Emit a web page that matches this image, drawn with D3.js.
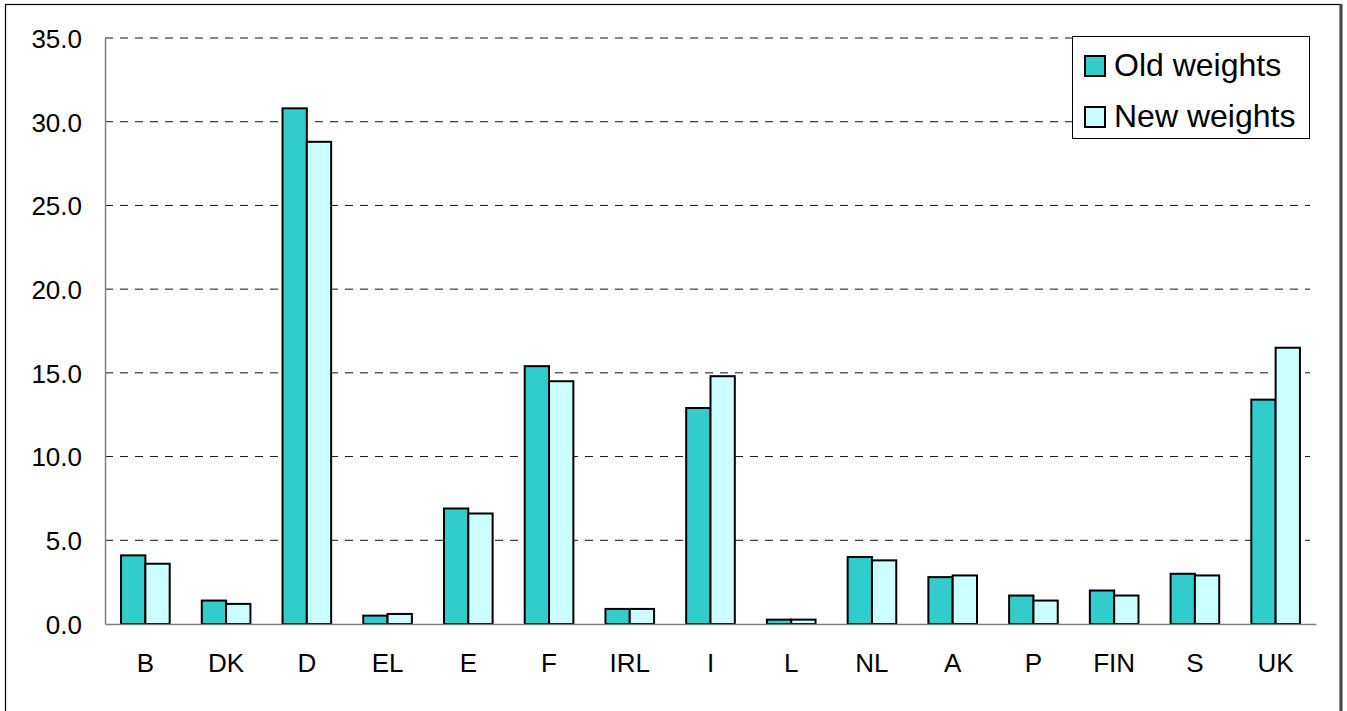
<!DOCTYPE html>
<html><head><meta charset="utf-8">
<script src="https://cdn.jsdelivr.net/npm/d3@7"></script>
<style>body{margin:0;background:#fff;}svg{display:block;font-family:"Liberation Sans",Arial,sans-serif;}</style>
</head><body>
<svg id="c" width="1347" height="711"></svg>
<script>
const categories = ["B","DK","D","EL","E","F","IRL","I","L","NL","A","P","FIN","S","UK"];
const oldWeights = [4.1,1.4,30.8,0.5,6.9,15.4,0.9,12.9,0.26,4.0,2.8,1.7,2.0,3.0,13.4];
const newWeights = [3.6,1.2,28.8,0.6,6.6,14.5,0.9,14.8,0.26,3.8,2.9,1.4,1.7,2.9,16.5];
const seriesNames = ["Old weights","New weights"];
const seriesColors = ["#33CCCC","#CCFFFF"];
const yTicks = [0,5,10,15,20,25,30,35];

const svg = d3.select("#c");
const pLeft = 105, pRight = 1316, pTop = 38, pBottom = 624;

// outer frame
svg.append("rect").attr("x",5.5).attr("y",4.5).attr("width",1335).attr("height",720)
  .attr("fill","none").attr("stroke","#000").attr("stroke-width",1.2);
svg.append("line").attr("x1",1341).attr("x2",1341).attr("y1",4).attr("y2",711)
  .attr("stroke","#444").attr("stroke-width",3);

const x = d3.scaleBand().domain(categories).range([pLeft,pRight]).paddingInner(0).paddingOuter(0);
const y = d3.scaleLinear().domain([0,35]).range([pBottom,pTop]);
const inner = d3.scaleBand().domain(seriesNames).range([0,x.bandwidth()]).paddingOuter(0.66).paddingInner(0);

// gridlines
svg.append("g").selectAll("line").data(yTicks.filter(d=>d>0)).join("line")
  .attr("x1",pLeft).attr("x2",1310).attr("y1",d=>y(d)).attr("y2",d=>y(d))
  .attr("stroke","#111").attr("stroke-width",1).attr("stroke-dasharray","8,7");

// y axis
const ya = svg.append("g").attr("transform",`translate(${pLeft},0)`)
  .call(d3.axisLeft(y).tickValues(yTicks).tickFormat(d3.format(".1f")).tickSize(0).tickPadding(23));
ya.select(".domain").attr("stroke","#808080").attr("stroke-width",1.5);
ya.selectAll("text").attr("font-size",26).attr("fill","#000").attr("font-family","Liberation Sans, Arial, sans-serif").attr("dy","0.36em");

// bars
const data = categories.map((c,i)=>({c, vals:[oldWeights[i],newWeights[i]]}));
const g = svg.append("g");
data.forEach(d=>{
  d.vals.forEach((v,j)=>{
    g.append("rect")
      .attr("x",x(d.c)+inner(seriesNames[j]))
      .attr("y",y(v))
      .attr("width",inner.bandwidth())
      .attr("height",y(0)-y(v))
      .attr("fill",seriesColors[j]).attr("stroke","#000").attr("stroke-width",2);
  });
});

// baseline / x axis
const xa = svg.append("g").attr("transform",`translate(0,${pBottom})`)
  .call(d3.axisBottom(x).tickSize(0).tickPadding(30));
xa.select(".domain").attr("stroke","#808080").attr("stroke-width",1.5);
xa.selectAll("text").attr("font-size",26).attr("fill","#000").attr("font-family","Liberation Sans, Arial, sans-serif");

// legend
const lg = svg.append("g");
lg.append("rect").attr("x",1072.5).attr("y",36.5).attr("width",237).attr("height",102)
  .attr("fill","#fff").attr("stroke","#000").attr("stroke-width",1);
seriesNames.forEach((s,i)=>{
  const yy = 56 + i*51;
  lg.append("rect").attr("x",1085).attr("y",yy).attr("width",20).attr("height",20)
    .attr("fill",seriesColors[i]).attr("stroke","#000").attr("stroke-width",2);
  lg.append("text").attr("x",1114).attr("y",yy+20).attr("font-size",32)
    .attr("fill","#000").text(s);
});
</script>
</body></html>
